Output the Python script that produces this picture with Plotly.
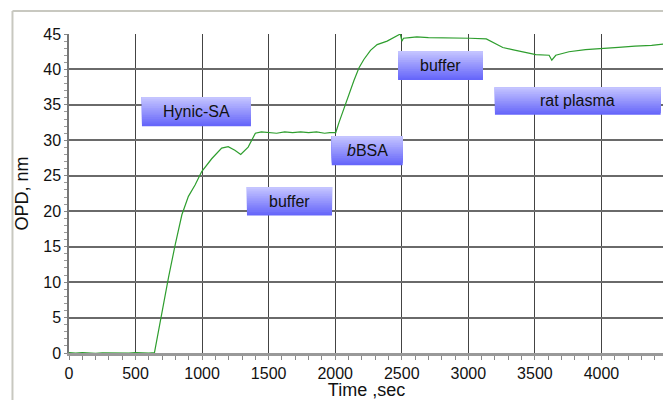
import plotly.graph_objects as go

# ---- data ----
time_sec = [0, 50, 100, 150, 200, 250, 300, 350, 400, 450, 500, 550, 600, 642,
            699, 748, 798, 848, 897, 947, 997, 1072, 1147, 1196, 1246, 1290,
            1346, 1375, 1400, 1445, 1500, 1560, 1620, 1680, 1740, 1800, 1860,
            1920, 1960, 2004, 2028, 2066, 2103, 2140, 2178, 2215, 2265, 2315,
            2390, 2452, 2489, 2501, 2513, 2560, 2613, 2700, 2787, 2900, 3011,
            3135, 3185, 3259, 3330, 3408, 3507, 3607, 3627, 3657, 3756, 3880,
            4004, 4128, 4252, 4377, 4470, 4470]
opd_nm = [0.05, -0.03, 0.06, 0.0, -0.04, 0.03, 0.0, 0.05, -0.03, 0.0, 0.04, -0.03, 0.0, 0.05,
          6.0, 10.7, 15.3, 19.5, 22.1, 23.7, 25.6, 27.4, 28.9, 29.1, 28.6, 28.0,
          29.05, 30.0, 31.0, 31.2, 31.1, 31.0, 31.2, 31.1, 31.2, 31.1, 31.2,
          31.0, 31.1, 31.1, 32.5, 34.6, 36.5, 38.4, 40.2, 41.4, 42.7, 43.5,
          44.0, 44.6, 45.0, 44.0, 44.4, 44.5, 44.6, 44.5, 44.5, 44.4, 44.4,
          44.3, 43.8, 43.1, 42.8, 42.5, 42.1, 42.0, 41.3, 42.0, 42.5, 42.8,
          42.9, 43.1, 43.3, 43.4, 43.6, 7.5]

x_ticks = [0, 500, 1000, 1500, 2000, 2500, 3000, 3500, 4000]
y_ticks = [0, 5, 10, 15, 20, 25, 30, 35, 40, 45]

label_texts = ["Hynic-SA", "buffer", "<i>b</i>BSA", "buffer", "rat plasma"]

# label box placement (layout, in axis units)
label_boxes = [
    (548, 1367, 32.0, 36.1),
    (1337, 1976, 19.4, 23.4),
    (1974, 2507, 26.5, 30.6),
    (2472, 3110, 38.5, 42.6),
    (3200, 4445, 33.6, 37.5),
]

fig = go.Figure()
fig.add_trace(go.Scatter(x=time_sec, y=opd_nm, mode="lines",
                         line=dict(color="#2e9e2e", width=1.2),
                         showlegend=False, hoverinfo="skip"))

shapes = []
annotations = []
N = 16
top_rgb = (196, 196, 255)
bot_rgb = (102, 102, 250)
for (x0, x1, y0, y1), txt in zip(label_boxes, label_texts):
    h = (y1 - y0) / N
    for i in range(N):
        t = i / (N - 1)
        r = round(bot_rgb[0] + (top_rgb[0] - bot_rgb[0]) * t)
        g = round(bot_rgb[1] + (top_rgb[1] - bot_rgb[1]) * t)
        b = round(bot_rgb[2] + (top_rgb[2] - bot_rgb[2]) * t)
        shapes.append(dict(type="rect", xref="x", yref="y",
                           x0=x0, x1=x1, y0=y0 + i * h, y1=y1,
                           fillcolor=f"rgb({r},{g},{b})", line=dict(width=0),
                           layer="above"))
    annotations.append(dict(x=(x0 + x1) / 2, y=(y0 + y1) / 2, xref="x", yref="y",
                            text=txt, showarrow=False,
                            font=dict(family="Liberation Sans, Arial", size=16,
                                      color="#111")))

# outer slide frame
shapes.append(dict(type="line", xref="paper", yref="paper",
                   x0=-0.095, x1=-0.095, y0=-0.3, y1=1.072,
                   line=dict(color="#c8c8c0", width=2)))
shapes.append(dict(type="line", xref="paper", yref="paper",
                   x0=-0.095, x1=1.2, y0=1.072, y1=1.072,
                   line=dict(color="#c8c8c0", width=2)))

# page body has an 8px margin, so the figure is sized to fit the window
fig.update_layout(
    width=663, height=392,
    margin=dict(l=61, r=7, t=26, b=47, autoexpand=False),
    paper_bgcolor="white", plot_bgcolor="white",
    font=dict(family="Liberation Sans, Arial", color="#111"),
    shapes=shapes, annotations=annotations,
)
fig.update_xaxes(
    range=[0, 4470], tickvals=x_ticks, ticktext=[str(v) for v in x_ticks],
    showgrid=True, gridcolor="#444", gridwidth=1,
    showline=True, linecolor="#999", linewidth=3,
    ticks="outside", ticklen=4, tickcolor="#888",
    minor=dict(dtick=100, ticks="outside", ticklen=4, tickcolor="#888", showgrid=False),
    tickfont=dict(size=16), automargin=False,
    title=dict(text="Time ,sec", font=dict(size=18), standoff=5),
    zeroline=False,
)
fig.update_yaxes(
    range=[0, 45], tickvals=y_ticks, ticktext=[str(v) for v in y_ticks],
    showgrid=True, gridcolor="#6a6a6a", gridwidth=1.5,
    showline=True, linecolor="#777", linewidth=1.5, mirror=True,
    ticks="outside", ticklen=3, tickcolor="#888",
    minor=dict(dtick=1, ticks="outside", ticklen=3, tickcolor="#999", showgrid=False),
    tickfont=dict(size=16), automargin=False,
    title=dict(text="OPD, nm", font=dict(size=18), standoff=10),
    zeroline=False,
)

fig.write_html("out.html")
